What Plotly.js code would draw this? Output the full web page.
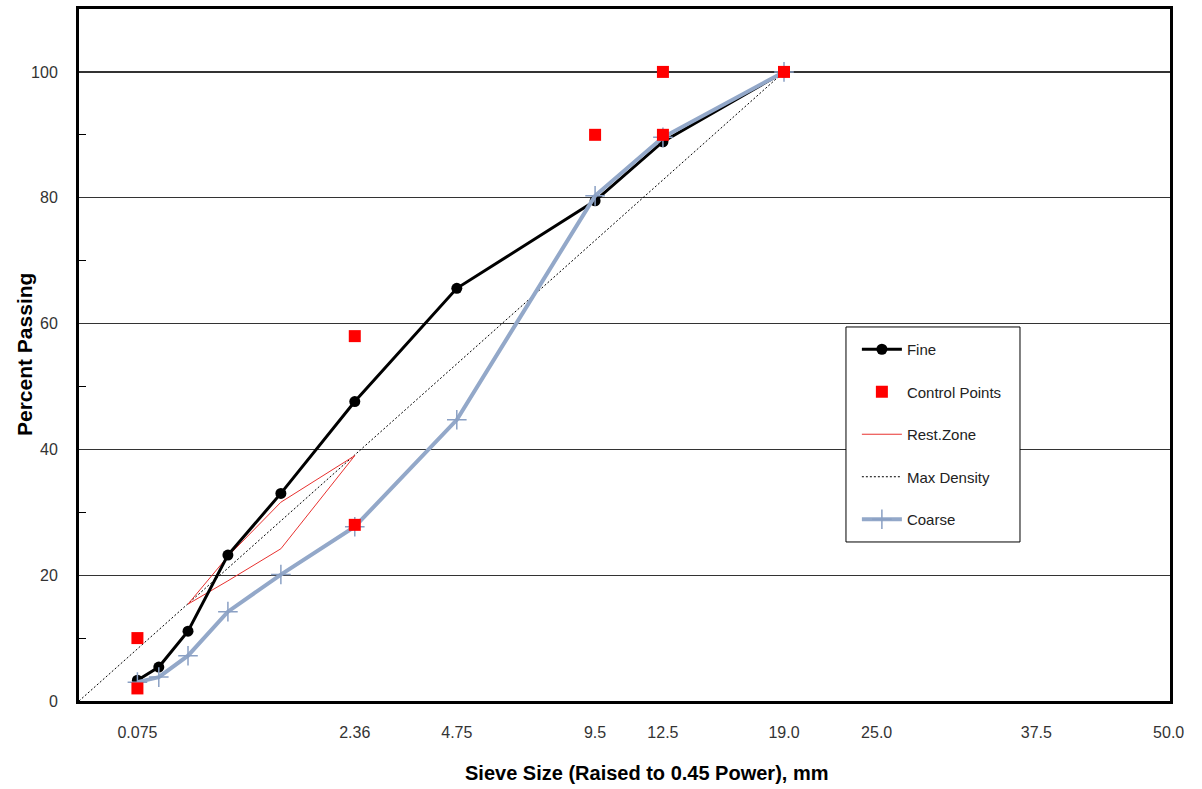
<!DOCTYPE html>
<html>
<head>
<meta charset="utf-8">
<script src="https://cdn.plot.ly/plotly-3.0.1.min.js"></script>
<style>html,body{margin:0;padding:0;background:#fff;} #chart{width:1202px;height:789px;}</style>
</head>
<body>
<div id="chart"></div>
<script>
// Sieve sizes (mm)
var fineSieves = [0.075, 0.15, 0.3, 0.6, 1.18, 2.36, 4.75, 9.5, 12.5, 19.0];
var finePassing = [3.3, 5.4, 11.1, 23.2, 33.0, 47.6, 65.6, 79.5, 88.9, 100];

var coarseSieves = [0.075, 0.15, 0.3, 0.6, 1.18, 2.36, 4.75, 9.5, 12.5, 19.0];
var coarsePassing = [3.0, 3.8, 7.2, 14.2, 20.1, 27.7, 44.7, 80.3, 89.6, 100];

var controlSieves = [0.075, 0.075, 2.36, 2.36, 9.5, 12.5, 12.5, 19.0];
var controlPassing = [10, 2, 58, 28, 90, 100, 90, 100];

var restSieves = [0.3, 0.6, 1.18, 2.36, 1.18, 0.6, 0.3];
var restPassing = [15.4, 23.0, 31.6, 39.0, 24.2, 19.1, 15.4];

var maxDenSieves = [0, 19.0];
var maxDenPassing = [0, 100];

var tickSieves = [0.075, 2.36, 4.75, 9.5, 12.5, 19.0, 25.0, 37.5, 50.0];
var tickLabels = ["0.075", "2.36", "4.75", "9.5", "12.5", "19.0", "25.0", "37.5", "50.0"];

var POWER = 0.45;
function p45(arr){ return arr.map(function(s){ return Math.pow(s, POWER); }); }

var font = "Liberation Sans, Arial, sans-serif";

var traces = [
  {
    name: "Max Density", x: p45(maxDenSieves), y: maxDenPassing, mode: "lines",
    line: {color: "#000000", width: 1, dash: "2px,2px"}, legendrank: 4, legendgroup: "d"
  },
  {
    name: "Rest.Zone", x: p45(restSieves), y: restPassing, mode: "lines",
    line: {color: "#e8312f", width: 1}, legendrank: 3, legendgroup: "c"
  },
  {
    name: "Fine", x: p45(fineSieves), y: finePassing, mode: "lines+markers",
    line: {color: "#000000", width: 3},
    marker: {symbol: "circle", size: 11, color: "#000000"}, legendrank: 1, legendgroup: "a"
  },
  {
    name: "Coarse", x: p45(coarseSieves), y: coarsePassing, mode: "lines+markers",
    line: {color: "#93a8c9", width: 4},
    marker: {symbol: "cross-thin", size: 14, line: {color: "#8aa0c4", width: 1.5}}, legendrank: 5, legendgroup: "e"
  },
  {
    name: "Control Points", x: p45(controlSieves), y: controlPassing, mode: "markers",
    marker: {symbol: "square", size: 12, color: "#ff0000"}, legendrank: 2, legendgroup: "b"
  }
];

var layout = {
  width: 1202, height: 789,
  margin: {l: 79, r: 32, t: 9, b: 88},
  paper_bgcolor: "#ffffff", plot_bgcolor: "#ffffff",
  showlegend: true,
  legend: {
    x: 0.713, y: 0.5318, xanchor: "left", yanchor: "top",
    borderwidth: 0, bgcolor: "rgba(0,0,0,0)",
    font: {family: font, size: 15, color: "#222222"},
    tracegroupgap: 20, itemwidth: 40,
    traceorder: "grouped"
  },
  shapes: [
    {type: "rect", xref: "paper", yref: "paper", x0: 0.703, x1: 0.8625, y0: 0.2298, y1: 0.5405,
     line: {color: "#000000", width: 1}, fillcolor: "#ffffff", layer: "above"}
  ],
  annotations: [
    {text: "<b>Sieve Size (Raised to 0.45 Power), mm</b>", xref: "paper", yref: "paper",
     x: 0.52, y: -0.104, xanchor: "center", yanchor: "middle", showarrow: false,
     font: {family: font, size: 20, color: "#000000"}},
    {text: "<b>Percent Passing</b>", xref: "paper", yref: "paper", textangle: -90,
     x: -0.0504, y: 0.50, xanchor: "center", yanchor: "middle", showarrow: false,
     font: {family: font, size: 21, color: "#000000"}}
  ],
  xaxis: {
    range: [0, 5.822],
    tickmode: "array", tickvals: p45(tickSieves), ticktext: tickLabels,
    ticks: "", showgrid: false, zeroline: false,
    showline: true, mirror: true, linecolor: "#000000", linewidth: 3,
    tickfont: {family: font, size: 16, color: "#333333"},
    ticklabelstandoff: 15
  },
  yaxis: {
    range: [0, 110],
    tickmode: "array", tickvals: [0, 20, 40, 60, 80, 100],
    ticks: "", showgrid: true, gridcolor: "#333333", gridwidth: 1.3, zeroline: false,
    showline: true, mirror: true, linecolor: "#000000", linewidth: 3,
    tickfont: {family: font, size: 16, color: "#333333"},
    ticklabelstandoff: 15,
    minor: {tickvals: [10, 30, 50, 70, 90], ticks: "inside", ticklen: 7, tickcolor: "#000000", tickwidth: 1, showgrid: false}
  }
};

Plotly.newPlot("chart", traces, layout, {displayModeBar: false, staticPlot: true});
</script>
</body>
</html>
